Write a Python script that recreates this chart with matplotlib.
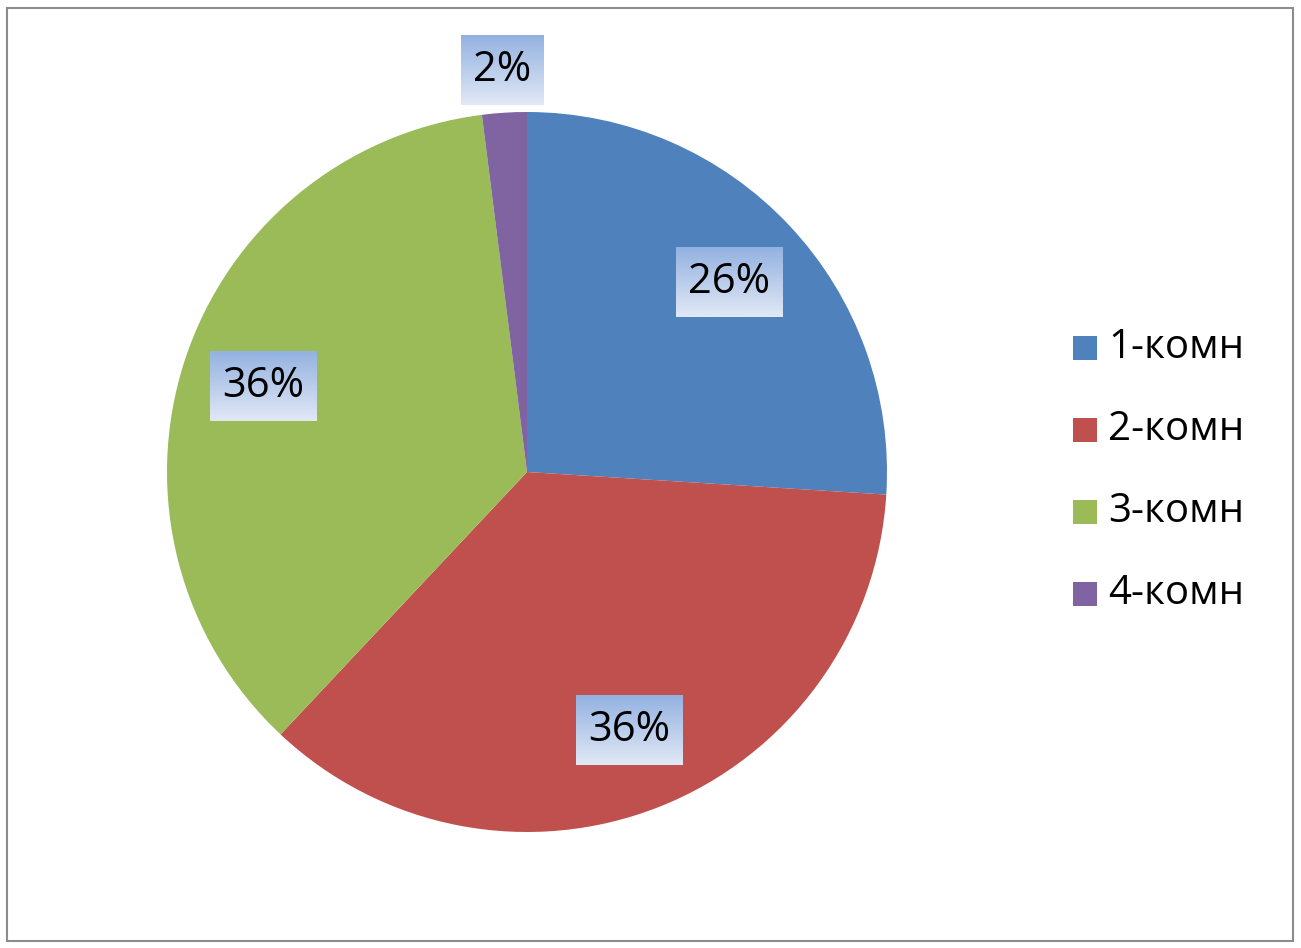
import numpy as np
import matplotlib
matplotlib.use("Agg")
from matplotlib import pyplot as plt
from matplotlib.patches import Rectangle

# Chart data
categories = ["1-комн", "2-комн", "3-комн", "4-комн"]
shares = [26, 36, 36, 2]
pct_labels = ["26%", "36%", "36%", "2%"]
colors = ["#4f81bd", "#c0504d", "#9bbb59", "#8064a2"]

plt.rcParams['font.family'] = ['Open Sans', 'DejaVu Sans']

W, H = 1301, 948
fig = plt.figure(figsize=(W / 100, H / 100), dpi=100)
ax = fig.add_axes([0, 0, 1, 1])

# outer frame
fig.patches.append(Rectangle((7 / W, 7 / H), (W - 15) / W, (H - 15) / H,
                             transform=fig.transFigure, fill=False,
                             edgecolor="#8c8c8c", linewidth=1.5))

cx, cy, R = 527, H - 472, 360
wedges, _ = ax.pie(shares, colors=colors, startangle=90, counterclock=False,
                   center=(cx, cy), radius=R, frame=True,
                   wedgeprops=dict(linewidth=0))
ax.set_xlim(0, W)
ax.set_ylim(0, H)
ax.set_aspect('equal')
ax.axis('off')

# vertical gradient behind the data labels
grad = np.zeros((50, 1, 3))
top = np.array([0x94, 0xb2, 0xe1]) / 255
bot = np.array([0xe0, 0xe8, 0xf5]) / 255
for i in range(50):
    t = i / 49
    grad[i, 0] = top * (1 - t) + bot * t

fig.canvas.draw()
renderer = fig.canvas.get_renderer()
for w, lab in zip(wedges, pct_labels):
    mid = np.deg2rad((w.theta1 + w.theta2) / 2)
    frac = 1.12 if (w.theta2 - w.theta1) < 20 else 0.77
    tx = cx + frac * R * np.cos(mid)
    ty = cy + frac * R * np.sin(mid)
    txt = ax.text(tx, ty, lab, ha='center', va='center', fontsize=30,
                  color='black', zorder=5)
    bb = txt.get_window_extent(renderer)
    bw = bb.width + 24
    bh = 70
    ax.imshow(grad, extent=(tx - bw / 2, tx + bw / 2, ty - bh / 2, ty + bh / 2),
              aspect='auto', zorder=4, interpolation='bilinear')

ax.set_xlim(0, W)
ax.set_ylim(0, H)

# legend
for i, (cat, col) in enumerate(zip(categories, colors)):
    ly = H - (348 + 82 * i)
    ax.add_patch(Rectangle((1073, ly - 12), 24, 24, facecolor=col, edgecolor='none'))
    ax.text(1108, ly, cat, ha='left', va='center', fontsize=29, color='black')

fig.savefig("out.png", dpi=100)
